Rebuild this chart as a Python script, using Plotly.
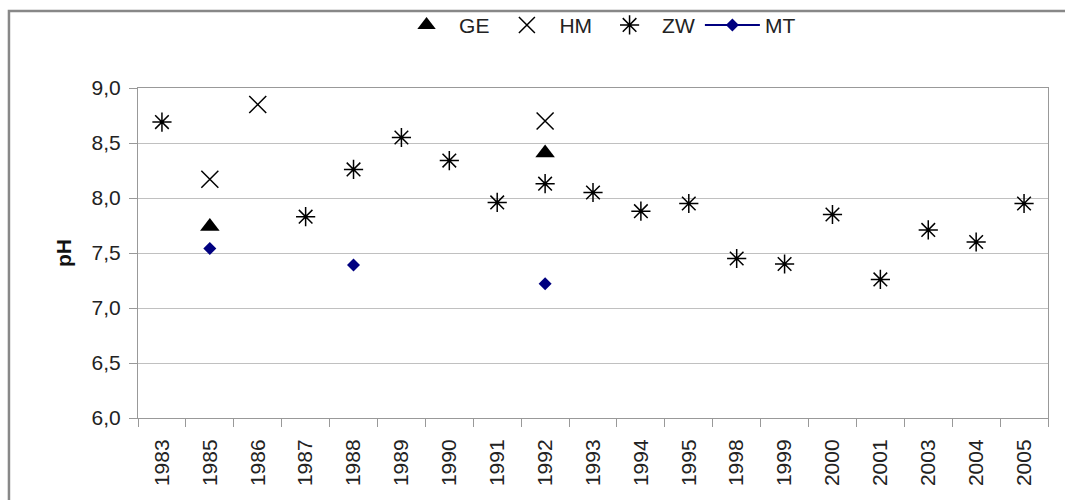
import plotly.graph_objects as go

years = ["1983", "1985", "1986", "1987", "1988", "1989", "1990", "1991", "1992", "1993",
         "1994", "1995", "1998", "1999", "2000", "2001", "2003", "2004", "2005"]

ge = [None, 7.74, None, None, None, None, None, None, 8.41, None,
      None, None, None, None, None, None, None, None, None]
hm = [None, 8.17, 8.85, None, None, None, None, None, 8.70, None,
      None, None, None, None, None, None, None, None, None]
zw = [8.69, None, None, 7.83, 8.26, 8.55, 8.34, 7.96, 8.13, 8.05,
      7.88, 7.95, 7.45, 7.40, 7.85, 7.26, 7.71, 7.60, 7.95]
mt = [None, 7.54, None, None, 7.39, None, None, None, 7.22, None,
      None, None, None, None, None, None, None, None, None]

y_ticks = [6.0, 6.5, 7.0, 7.5, 8.0, 8.5, 9.0]

font = "Liberation Sans, Arial, sans-serif"

fig = go.Figure()
fig.add_trace(go.Scatter(x=years, y=ge, name="GE", mode="markers",
                         marker=dict(symbol="triangle-up", size=17, color="black")))
fig.add_trace(go.Scatter(x=years, y=hm, name="HM", mode="markers",
                         marker=dict(symbol="x-thin-open", size=17, color="black",
                                     line=dict(color="black", width=1.5))))
fig.add_trace(go.Scatter(x=years, y=zw, name="ZW", mode="markers",
                         marker=dict(symbol="asterisk-open", size=16, color="black",
                                     line=dict(color="black", width=1.5))))
fig.add_trace(go.Scatter(x=years, y=mt, name="MT", mode="lines+markers",
                         connectgaps=False,
                         line=dict(color="#000080", width=2),
                         marker=dict(symbol="diamond", size=10, color="#000080")))

fig.update_layout(
    width=1065, height=500,
    margin=dict(l=138, r=17, t=88, b=82, autoexpand=False),
    paper_bgcolor="white", plot_bgcolor="white",
    separators=", ",
    font=dict(family=font, size=21, color="#222"),
    showlegend=True,
    legend=dict(orientation="h", x=0.505, xanchor="center", y=1.19, yanchor="middle",
                bgcolor="rgba(0,0,0,0)",
                font=dict(size=21, color="#222"), itemwidth=55, tracegroupgap=0),
    xaxis=dict(type="category", categoryorder="array", categoryarray=years,
               tickangle=-90, tickson="boundaries", ticks="outside", ticklen=8,
               tickcolor="#999", showgrid=False, showline=True, linecolor="#999",
               linewidth=1, mirror=True, tickfont=dict(size=21, color="#222"),
               ticklabelstandoff=12,
               range=[-0.5, len(years) - 0.5]),
    yaxis=dict(range=[6.0, 9.0], tickvals=y_ticks, tickformat=".1f",
               ticks="outside", ticklen=8, tickcolor="#999",
               showgrid=True, gridcolor="#c0c0c0", gridwidth=1,
               showline=True, linecolor="#999", linewidth=1, mirror=True,
               zeroline=False, tickfont=dict(size=21, color="#222"),
               ticklabelstandoff=4,
               title=dict(text="<b>pH</b>", font=dict(size=21, color="#111"), standoff=14)),
    shapes=[dict(type="rect", xref="paper", yref="paper",
                 x0=-0.1418, x1=1.06, y0=-0.3, y1=1.2333,
                 line=dict(color="#888", width=2.5), fillcolor="rgba(0,0,0,0)", layer="below")],
)

fig.write_html("out.html", config={"displayModeBar": False},
               post_script="document.body.style.margin='0px';")
